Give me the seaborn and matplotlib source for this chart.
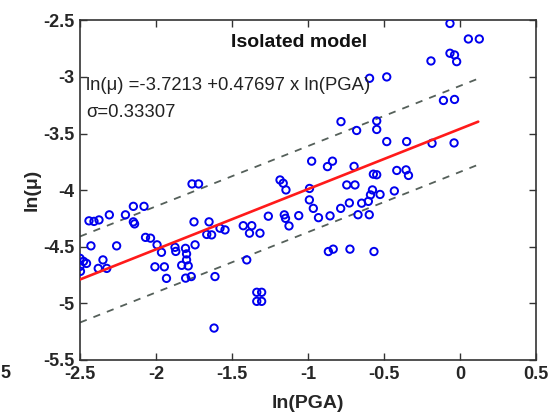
import numpy as np
import pandas as pd
import matplotlib
matplotlib.use("Agg")
import matplotlib.pyplot as plt
import seaborn as sns

# Observations: ln(PGA) and ln(mu) for the isolated model
ln_pga = [
    -2.500, -2.477, -2.457, -2.500, -2.497, -2.349, -2.380, -2.324, -2.428, -2.259,
    -2.441, -2.408, -2.375, -2.307, -2.201, -2.149, -2.079, -2.149, -2.141, -2.069,
    -2.036, -1.993, -1.964, -2.007, -1.945, -1.931, -1.875, -1.870, -1.806, -1.799,
    -1.743, -1.831, -1.788, -1.799, -1.805, -1.768, -1.763, -1.720, -1.750, -1.651,
    -1.666, -1.634, -1.579, -1.546, -1.612, -1.618, -1.426, -1.370, -1.385, -1.316,
    -1.261, -1.403, -1.337, -1.305, -1.337, -1.305, -1.184, -1.163, -1.145, -1.156,
    -1.148, -1.125, -1.061, -0.990, -0.991, -0.965, -0.931, -0.855, -0.785, -0.728,
    -0.976, -0.872, -0.839, -0.697, -0.745, -0.691, -0.570, -0.548, -0.416, -0.355,
    -0.339, -0.576, -0.589, -0.526, -0.432, -0.647, -0.603, -0.671, -0.597, -0.866,
    -0.834, -0.724, -0.566, -0.783, -0.680, -0.548, -0.548, -0.482, -0.351, -0.184,
    -0.039, -0.109, -0.036, -0.595, -0.482, -0.191, -0.066, -0.036, -0.022, -0.066,
    0.055, 0.127,
]
ln_mu = [
    -4.602, -4.629, -4.647, -4.673, -4.717, -4.616, -4.691, -4.691, -4.492, -4.492,
    -4.271, -4.276, -4.263, -4.218, -4.218, -4.143, -4.143, -4.280, -4.298, -4.417,
    -4.424, -4.483, -4.549, -4.677, -4.677, -4.779, -4.505, -4.541, -4.514, -4.563,
    -4.483, -4.664, -4.669, -4.616, -4.777, -4.763, -3.945, -3.945, -4.280, -4.280,
    -4.391, -4.395, -4.336, -4.351, -4.763, -5.218, -4.314, -4.314, -4.380, -4.380,
    -4.230, -4.616, -4.902, -4.902, -4.982, -4.982, -3.910, -3.939, -3.998, -4.218,
    -4.249, -4.316, -4.225, -3.985, -4.086, -4.161, -4.243, -4.227, -4.161, -4.113,
    -3.744, -3.792, -3.744, -3.790, -3.954, -3.954, -3.859, -3.864, -3.826, -3.821,
    -3.870, -3.998, -4.042, -4.038, -4.007, -4.115, -4.099, -4.217, -4.217, -4.542,
    -4.521, -4.521, -4.542, -3.395, -3.473, -3.389, -3.464, -3.571, -3.571, -3.586,
    -3.583, -3.208, -3.199, -3.012, -3.000, -2.859, -2.791, -2.806, -2.865, -2.528,
    -2.665, -2.665,
]

# Fitted trend drawn on the plot and its dashed band
fit_intercept = -3.459
fit_slope = 0.532
band_offset = 0.38
fit_range = [-2.5, 0.12]

x_ticks = [-2.5, -2, -1.5, -1, -0.5, 0, 0.5]
y_ticks = [-5.5, -5, -4.5, -4, -3.5, -3, -2.5]
x_tick_labels = ["-2.5", "-2", "-1.5", "-1", "-0.5", "0", "0.5"]
y_tick_labels = ["-5.5", "-5", "-4.5", "-4", "-3.5", "-3", "-2.5"]

title_text = "Isolated model"
equation_text = "ln(\u03bc) =-3.7213 +0.47697 x ln(PGA)"
sigma_text = "\u03c3=0.33307"

sns.set_theme(style="ticks")
plt.rcParams["font.family"] = ["Liberation Sans", "DejaVu Sans"]

fig = plt.figure(figsize=(5.53, 4.16), dpi=100)
fig.patch.set_facecolor("white")
ax = fig.add_axes([80 / 553, 1 - 360 / 416, 456 / 553, 339.7 / 416])
ax.set_facecolor("white")

df = pd.DataFrame({"ln(PGA)": ln_pga, "ln(mu)": ln_mu})

xf = np.linspace(fit_range[0], fit_range[1], 50)
yf = fit_intercept + fit_slope * xf
fit_df = pd.DataFrame({"x": xf, "y": yf, "lo": yf - band_offset, "hi": yf + band_offset})

sns.lineplot(data=fit_df, x="x", y="hi", ax=ax, color="#55605a", lw=1.3,
             linestyle=(0, (4, 4)), zorder=2)
sns.lineplot(data=fit_df, x="x", y="lo", ax=ax, color="#55605a", lw=1.3,
             linestyle=(0, (4, 4)), zorder=2)

sns.scatterplot(data=df, x="ln(PGA)", y="ln(mu)", ax=ax, marker="o", s=28,
                facecolor="none", edgecolor="#0000ee", linewidth=1.4, zorder=3)

sns.lineplot(data=fit_df, x="x", y="y", ax=ax, color="#ff1a1a", lw=1.9, zorder=4)

ax.set_xlim(-2.5, 0.5)
ax.set_ylim(-5.5, -2.5)
ax.set_xticks(x_ticks)
ax.set_xticklabels(x_tick_labels)
ax.set_yticks(y_ticks)
ax.set_yticklabels(y_tick_labels)
ax.tick_params(direction="in", length=5, width=1.0, color="#333333",
               top=True, right=True, labelsize=13, pad=4)
for lab in ax.get_xticklabels() + ax.get_yticklabels():
    lab.set_fontweight("bold")
for sp in ax.spines.values():
    sp.set_visible(True)
    sp.set_color("#333333")
    sp.set_linewidth(1.2)

ax.set_xlabel("ln(PGA)", fontsize=14, fontweight="bold", labelpad=9)
ax.set_ylabel("ln(\u03bc)", fontsize=14, fontweight="bold", labelpad=2)

ax.text(0.48, 0.935, title_text, transform=ax.transAxes, ha="center", va="center",
        fontsize=14, fontweight="bold", color="#111111")
ax.text(0.014, 0.807, equation_text, transform=ax.transAxes, ha="left", va="center",
        fontsize=13.3, color="#222222")
ax.text(0.014, 0.73, sigma_text, transform=ax.transAxes, ha="left", va="center",
        fontsize=13.3, color="#222222")

# edge of the neighbouring panel's tick label
fig.text(0.0, 1 - 373 / 416, "5", ha="left", va="center", fontsize=13,
         fontweight="bold", color="#222222")

fig.savefig("out.png", dpi=100, facecolor="white")
